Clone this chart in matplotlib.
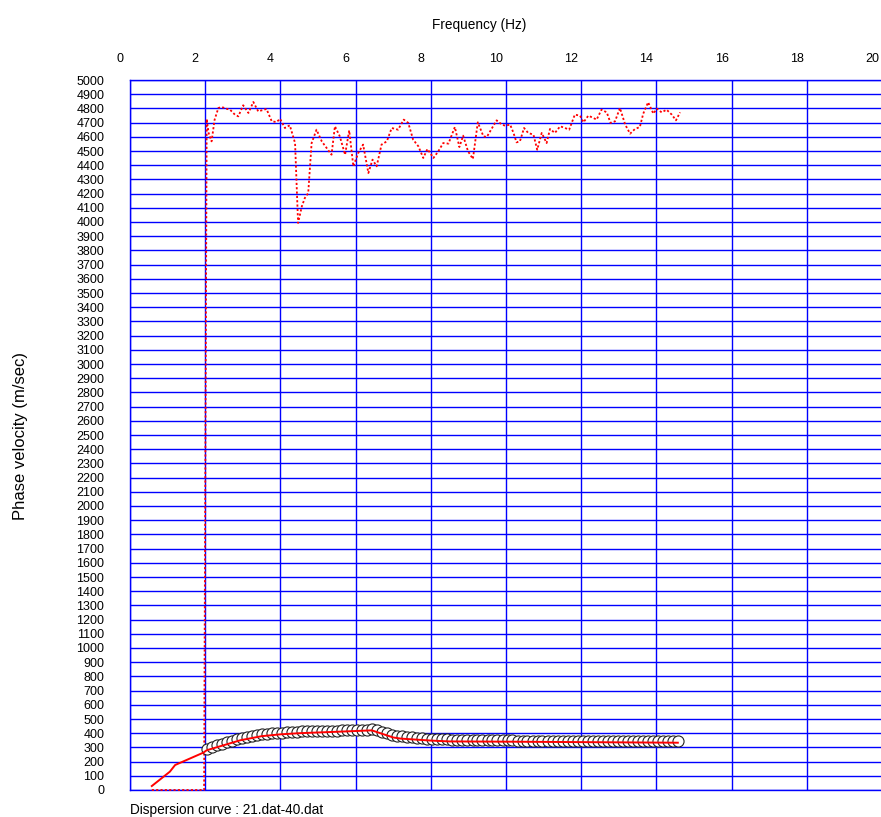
import matplotlib
matplotlib.use("Agg")
import matplotlib.pyplot as plt
from matplotlib import font_manager
from matplotlib.transforms import ScaledTranslation

# ---- data ----------------------------------------------------------------
# observed dispersion picks (open circles)
pick_freq = [2.04, 2.17, 2.31, 2.44, 2.57, 2.71, 2.84, 2.97, 3.11, 3.24,
             3.37, 3.51, 3.64, 3.77, 3.91, 4.04, 4.17, 4.31, 4.44, 4.57,
             4.71, 4.84, 4.97, 5.11, 5.24, 5.37, 5.51, 5.64, 5.77, 5.91,
             6.04, 6.17, 6.31, 6.44, 6.57, 6.71, 6.84, 6.97, 7.11, 7.24,
             7.37, 7.51, 7.64, 7.77, 7.91, 8.04, 8.17, 8.31, 8.44, 8.57,
             8.71, 8.84, 8.97, 9.11, 9.24, 9.37, 9.51, 9.64, 9.77, 9.91,
             10.04, 10.17, 10.31, 10.44, 10.57, 10.71, 10.84, 10.97, 11.11, 11.24,
             11.37, 11.51, 11.64, 11.77, 11.91, 12.04, 12.17, 12.31, 12.44, 12.57,
             12.71, 12.84, 12.97, 13.11, 13.24, 13.37, 13.51, 13.64, 13.77, 13.91,
             14.04, 14.17, 14.31, 14.44, 14.57]
pick_vel = [288, 303, 316, 327, 336, 346, 356, 366, 373, 380,
            386, 391, 394, 398, 401, 404, 406, 408, 410, 412,
            414, 416, 417, 418, 418, 419, 419, 420, 420, 420,
            421, 421, 422, 432, 420, 408, 398, 390, 383, 377,
            373, 370, 367, 364, 362, 360, 358, 357, 356, 355,
            354, 354, 353, 353, 352, 352, 352, 351, 351, 351,
            350, 350, 348, 348, 348, 348, 347, 347, 347, 347,
            347, 347, 346, 346, 346, 346, 346, 346, 346, 346,
            346, 346, 346, 345, 345, 345, 345, 345, 345, 345,
            345, 345, 345, 345, 345]

# fitted curve (solid red)
fit_freq = [0.58, 1.06, 1.20, 1.95, 2.04, 2.50, 2.93, 3.50, 4.00, 4.50,
            5.50, 6.43, 7.00, 7.20, 8.00, 8.50, 10.20, 14.57]
fit_vel = [28, 129, 176, 263, 280, 316, 350, 379, 392, 400,
           410, 420, 370, 362, 348, 342, 340, 333]

# maximum-amplitude trace (dotted red)
amp_freq = [0.58, 1.97, 2.04, 2.09, 2.17, 2.25, 2.35, 2.44, 2.56, 2.66,
            2.79, 2.88, 3.01, 3.15, 3.28, 3.41, 3.63, 3.77, 3.90, 3.99,
            4.12, 4.25, 4.39, 4.47, 4.57, 4.65, 4.74, 4.83, 4.96, 5.10,
            5.23, 5.36, 5.45, 5.58, 5.72, 5.83, 5.94, 6.07, 6.20, 6.34,
            6.45, 6.56, 6.69, 6.83, 6.96, 7.13, 7.28, 7.40, 7.53, 7.67,
            7.80, 7.91, 8.07, 8.20, 8.33, 8.47, 8.64, 8.76, 8.86, 8.99,
            9.12, 9.25, 9.40, 9.49, 9.75, 9.89, 9.98, 10.11, 10.20, 10.28,
            10.37, 10.48, 10.59, 10.73, 10.83, 10.95, 11.08, 11.17, 11.30, 11.44,
            11.57, 11.68, 11.83, 11.97, 12.06, 12.19, 12.32, 12.41, 12.54, 12.68,
            12.78, 12.90, 13.03, 13.17, 13.30, 13.43, 13.56, 13.65, 13.78, 13.92,
            14.01, 14.14, 14.27, 14.41, 14.52, 14.63]
amp_vel = [0, 0, 4725, 4627, 4568, 4720, 4803, 4810, 4798, 4791,
           4756, 4744, 4822, 4768, 4845, 4779, 4796, 4709, 4704, 4727,
           4662, 4681, 4556, 3993, 4110, 4169, 4204, 4556, 4650, 4568,
           4521, 4474, 4674, 4603, 4474, 4645, 4392, 4486, 4545, 4345,
           4439, 4392, 4545, 4568, 4662, 4650, 4721, 4698, 4580, 4533,
           4451, 4514, 4451, 4498, 4556, 4552, 4669, 4528, 4608, 4498,
           4444, 4702, 4603, 4599, 4716, 4686, 4678, 4686, 4627, 4561,
           4568, 4662, 4627, 4615, 4509, 4627, 4556, 4655, 4627, 4674,
           4662, 4650, 4756, 4749, 4702, 4749, 4733, 4721, 4791, 4772,
           4698, 4709, 4803, 4686, 4622, 4655, 4669, 4763, 4843, 4763,
           4798, 4772, 4791, 4756, 4716, 4772]

x_ticks = list(range(0, 21, 2))
y_ticks = list(range(0, 5001, 100))

# ---- fonts ---------------------------------------------------------------
installed = {f.name for f in font_manager.fontManager.ttflist}
base_font = "Liberation Sans" if "Liberation Sans" in installed else "DejaVu Sans"
if "Liberation Sans Narrow" in installed:
    narrow_font, narrow_size = "Liberation Sans Narrow", 11.6
else:
    narrow_font, narrow_size = base_font, 9.8
plt.rcParams["font.family"] = [base_font, "DejaVu Sans"]

# ---- figure --------------------------------------------------------------
W, H = 881, 817
fig = plt.figure(figsize=(W / 100, H / 100), dpi=100)
ax = fig.add_axes([130 / W, (H - 790) / H, 752 / W, 710 / H])

grid_blue = "#0000ff"
ax.set_xlim(0, 20)
ax.set_ylim(0, 5000)
ax.xaxis.tick_top()
ax.set_xticks(x_ticks)
ax.set_yticks(y_ticks)
ax.tick_params(axis="both", length=0, labelsize=9, colors="black")
ax.tick_params(axis="x", pad=10.5)
ax.tick_params(axis="y", pad=18.5)
ax.grid(True, color=grid_blue, linewidth=1.0)
ax.set_axisbelow(True)
for s in ax.spines.values():
    s.set_color(grid_blue)
    s.set_linewidth(1.0)

# frequency labels sit slightly left of their grid lines
shift = ScaledTranslation(-10 / 100, 0, fig.dpi_scale_trans)
for lab in ax.get_xticklabels():
    lab.set_transform(lab.get_transform() + shift)

# curves
ax.plot(amp_freq, amp_vel, color="red", linestyle=(0, (1.2, 1.2)),
        linewidth=1.3, zorder=3, clip_on=False)
ax.plot(pick_freq, pick_vel, linestyle="none", marker="o", markersize=8,
        markerfacecolor="white", markeredgecolor="#222222",
        markeredgewidth=0.8, zorder=4)
ax.plot(fit_freq, fit_vel, color="red", linewidth=1.4, zorder=5)

# labels
fig.text(479 / W, 1 - 25 / H, "Frequency (Hz)", ha="center", va="center",
         family=[narrow_font, "DejaVu Sans"], fontsize=narrow_size)
fig.text(21 / W, 1 - 436 / H, "Phase velocity (m/sec)", rotation=90,
         ha="center", va="center", fontsize=12)
fig.text(130 / W, 1 - 803 / H, "Dispersion curve : 21.dat-40.dat",
         ha="left", va="top",
         family=[narrow_font, "DejaVu Sans"], fontsize=narrow_size)

fig.savefig("out.png", dpi=100)
